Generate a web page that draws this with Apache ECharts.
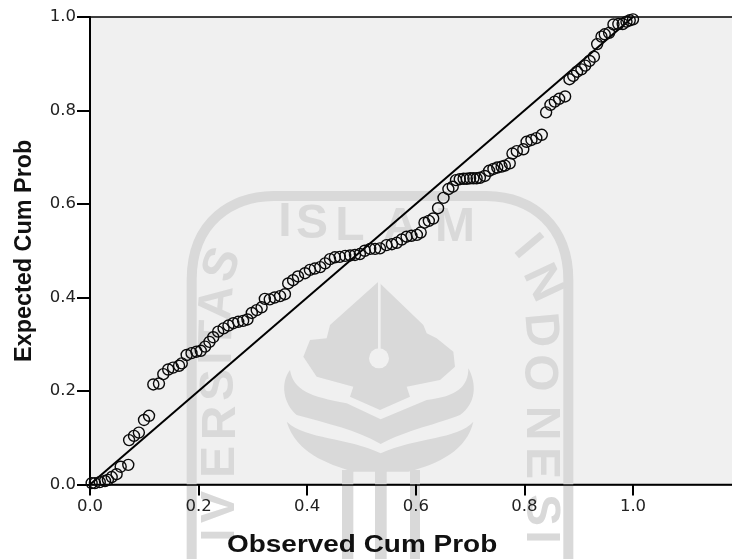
<!DOCTYPE html>
<html><head><meta charset="utf-8">
<style>html,body{margin:0;padding:0;background:#fff}#c{width:732px;height:559px}</style>
<script src="https://cdn.jsdelivr.net/npm/echarts@6/dist/echarts.min.js"></script>
</head><body><div id="c"></div>
<script>
const observed=[.003,.009,.018,.0276,.033,.04,.049,.0565,.0705,.072,.081,.09,.0995,.1087,.1166,.127,.135,.144,.153,.164,.169,.178,.187,.196,.204,.212,.22,.227,.236,.246,.255,.264,.273,.282,.29,.298,.307,.316,.322,.331,.34,.35,.359,.365,.374,.383,.396,.405,.414,.424,.433,.442,.451,.46,.47,.479,.488,.497,.506,.516,.525,.534,.546,.556,.565,.574,.583,.592,.602,.609,.616,.624,.632,.641,.651,.66,.668,.674,.681,.688,.694,.7,.706,.712,.718,.727,.735,.743,.75,.758,.764,.773,.778,.786,.798,.804,.813,.822,.832,.84,.848,.856,.864,.875,.883,.89,.897,.905,.912,.92,.928,.934,.942,.948,.956,.964,.973,.981,.988,.994,1.0];
const expected=[.003,.003,.005,.0075,.01,.016,.022,.038,.042,.095,.104,.111,.138,.147,.214,.216,.236,.246,.25,.254,.259,.277,.281,.284,.286,.295,.305,.315,.327,.334,.34,.345,.348,.35,.353,.367,.373,.379,.397,.396,.4,.403,.407,.43,.437,.445,.452,.459,.462,.465,.473,.482,.486,.487,.489,.49,.491,.493,.5,.504,.504,.505,.512,.514,.517,.524,.53,.532,.534,.539,.56,.564,.569,.591,.613,.632,.637,.651,.653,.654,.654,.655,.655,.655,.656,.66,.671,.675,.678,.68,.682,.687,.708,.713,.717,.733,.737,.741,.748,.796,.812,.819,.825,.83,.867,.874,.883,.888,.896,.906,.915,.942,.958,.963,.966,.984,.985,.985,.99,.993,.995];
const lineX=[0,1];
const lineY=[0,1];
const xTitle='Observed Cum Prob';
const yTitle='Expected Cum Prob';

const wm='#d9d9d9';
const letters=[
 ['I',285,223,0],['S',312,225,0],['L',350,227,0],['A',400,228,0],['M',455,228,0],
 ['S',223,265,70],['A',218,303,85],['T',218,335,88],['I',218,358,90],['S',220,385,90],['R',222,423,90],['E',221,462,90],['V',221,507,90],['I',221,535,90],
 ['I',527,247,-50],['N',542,283,-65],['D',540,330,-85],['O',538,373,-90],['N',540,423,-90],['E',540,463,-90],['S',540,510,-90],['I',540,537,-90]
];
const wmText=letters.map(l=>({type:'text',x:l[1],y:l[2],rotation:l[3]*Math.PI/180,z:1,silent:true,
  style:{text:l[0],fill:wm,font:'bold 48px "Liberation Sans"',align:'center',verticalAlign:'middle'}}));
const wmPaths=[
 {d:'M155 1167L155 330C155 150 280 80 400 78L1040 78C1180 80 1285 170 1285 330L1285 1167',stroke:wm,lw:30,fill:'none'},
 {d:'M715 335L850 465L860 490L890 505L940 545L945 590L900 630L800 650L810 680L720 720L630 680L640 650L530 620L490 560L510 510L560 505L570 465Z',fill:wm},
 {d:'M450 600C420 640 430 700 470 735C560 760 650 780 722 822C800 780 900 760 960 735C1010 700 1010 640 985 595C985 650 950 680 860 690L722 748L620 700C510 680 460 660 450 600Z',fill:wm},
 {d:'M440 755C470 850 560 880 640 905L805 905C900 880 980 840 1000 755C950 810 830 800 722 850C620 800 500 810 440 755Z',fill:wm},
 {d:'M606 900L640 900L640 1167L606 1167ZM705 900L740 900L740 1167L705 1167ZM810 900L840 900L840 1167L810 1167Z',fill:wm},
 {d:'M714 335L722 335L722 540L714 540Z',fill:'#f0f0f0'}
];
wmPaths.forEach((p,i)=>echarts.graphic.registerShape('wm'+i,echarts.graphic.extendPath(p.d,{})));
const graphicEls=[{type:'group',x:140,y:170,scaleX:1/3,scaleY:1/3,z:1,silent:true,children:wmPaths.map((p,i)=>({type:'wm'+i,z:1,silent:true,
   style:{fill:p.fill,stroke:p.stroke||null,lineWidth:p.lw||0}})).concat([{type:'circle',z:1,silent:true,shape:{cx:717,cy:565,r:30},style:{fill:'#f0f0f0'}}])}].concat(wmText).concat([
 {type:'text',x:227,y:534,scaleX:1.215,z:6,silent:true,style:{text:xTitle,fill:'#111',font:'bold 23px "Liberation Sans"',align:'left',verticalAlign:'top'}}
]);

const chart=echarts.init(document.getElementById('c'),null,{renderer:'canvas'});
const lbl={color:'#222',fontFamily:'DejaVu Sans',fontSize:16.5};
chart.setOption({
 animation:false,backgroundColor:'#fff',
 graphic:{z:1,elements:graphicEls},
 grid:{left:90,top:17,width:651.6,height:467.5,outerBoundsMode:'none',show:true,backgroundColor:'#f0f0f0',borderColor:'#000',borderWidth:1.5},
 xAxis:{type:'value',min:0,max:1.2,interval:0.2,z:3,splitLine:{show:false},
   axisLine:{lineStyle:{color:'#000',width:1.5},onZero:false},
   axisTick:{length:11,lineStyle:{color:'#000',width:2}},
   axisLabel:Object.assign({margin:14,showMaxLabel:false,formatter:v=>v.toFixed(1)},lbl)},
 yAxis:{type:'value',min:0,max:1,interval:0.2,z:3,splitLine:{show:false},
   name:yTitle,nameLocation:'middle',nameGap:54,nameTextStyle:{fontFamily:'Liberation Sans',fontWeight:'bold',fontSize:23.4,color:'#111'},
   axisLine:{lineStyle:{color:'#000',width:2},onZero:false},
   axisTick:{length:13,lineStyle:{color:'#000',width:2}},
   axisLabel:Object.assign({margin:14,showMaxLabel:true,formatter:v=>v.toFixed(1)},lbl)},
 series:[
  {type:'line',z:4,data:lineX.map((x,i)=>[x,lineY[i]]),showSymbol:false,symbol:'none',lineStyle:{color:'#000',width:2},silent:true},
  {type:'scatter',z:5,data:observed.map((x,i)=>[x,expected[i]]),symbol:'circle',symbolSize:11,clip:false,
    itemStyle:{color:'transparent',borderColor:'#0a0a0a',borderWidth:1.4,opacity:1}}
 ]
});
</script></body></html>
